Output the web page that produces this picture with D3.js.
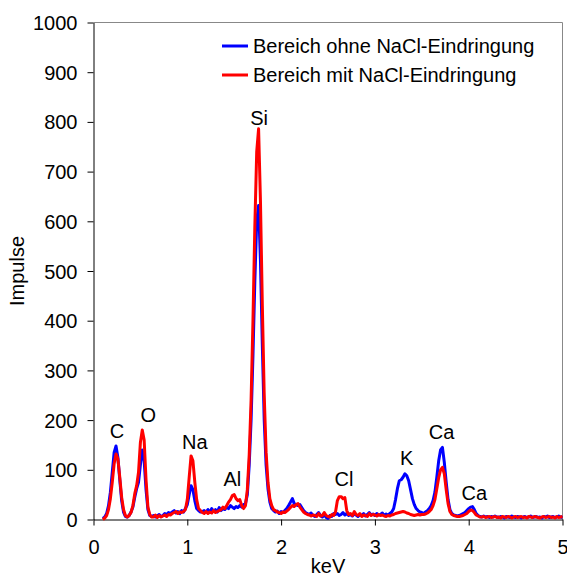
<!DOCTYPE html>
<html>
<head>
<meta charset="utf-8">
<script src="https://cdn.jsdelivr.net/npm/d3@7"></script>
<style>
  html, body { margin: 0; padding: 0; background: #fff; }
  svg { display: block; font-family: Arial, "Liberation Sans", sans-serif; }
</style>
</head>
<body>
<svg id="chart" width="567" height="576"></svg>
<script>
// ---- data ----
const energies = [
  0.10,0.12,0.14,0.16,0.18,0.20,0.22,0.24,0.26,0.28,
  0.30,0.32,0.34,0.36,0.38,0.40,0.42,0.44,0.46,0.48,
  0.50,0.52,0.54,0.56,0.58,0.60,0.62,0.64,0.66,0.68,
  0.70,0.72,0.74,0.76,0.78,0.80,0.82,0.84,0.86,0.88,
  0.90,0.92,0.94,0.96,0.98,1.00,1.02,1.04,1.06,1.08,
  1.10,1.12,1.14,1.16,1.18,1.20,1.22,1.24,1.26,1.28,
  1.30,1.32,1.34,1.36,1.38,1.40,1.42,1.44,1.46,1.48,
  1.50,1.52,1.54,1.56,1.58,1.60,1.62,1.64,1.66,1.68,
  1.70,1.72,1.74,1.76,1.78,1.80,1.82,1.84,1.86,1.88,
  1.90,1.92,1.94,1.96,1.98,2.00,2.02,2.04,2.06,2.08,
  2.10,2.12,2.14,2.16,2.18,2.20,2.22,2.24,2.26,2.28,
  2.30,2.32,2.34,2.36,2.38,2.40,2.42,2.44,2.46,2.48,
  2.50,2.52,2.54,2.56,2.58,2.60,2.62,2.64,2.66,2.68,
  2.70,2.72,2.74,2.76,2.78,2.80,2.82,2.84,2.86,2.88,
  2.90,2.92,2.94,2.96,2.98,3.00,3.02,3.04,3.06,3.08,
  3.10,3.12,3.14,3.16,3.18,3.20,3.22,3.24,3.26,3.28,
  3.30,3.32,3.34,3.36,3.38,3.40,3.42,3.44,3.46,3.48,
  3.50,3.52,3.54,3.56,3.58,3.60,3.62,3.64,3.66,3.68,
  3.70,3.72,3.74,3.76,3.78,3.80,3.82,3.84,3.86,3.88,
  3.90,3.92,3.94,3.96,3.98,4.00,4.02,4.04,4.06,4.08,
  4.10,4.12,4.14,4.16,4.18,4.20,4.22,4.24,4.26,4.28,
  4.30,4.32,4.34,4.36,4.38,4.40,4.42,4.44,4.46,4.48,
  4.50,4.52,4.54,4.56,4.58,4.60,4.62,4.64,4.66,4.68,
  4.70,4.72,4.74,4.76,4.78,4.80,4.82,4.84,4.86,4.88,
  4.90,4.92,4.94,4.96,4.98,5.00
];
const countsOhne = [
  2,5,12,28,55,95,135,148,125,80,
  38,15,6,5,8,15,25,45,62,75,
  110,140,118,60,20,8,6,8,5,7,
  10,6,8,12,10,14,12,15,18,13,
  16,12,18,15,22,30,50,68,60,38,
  22,18,15,16,18,15,20,14,22,17,
  20,15,24,18,22,20,25,22,28,25,
  22,26,24,28,25,30,32,50,110,200,
  330,480,600,632,520,350,200,110,62,35,
  22,18,15,17,12,16,14,18,22,28,
  35,42,32,30,28,30,24,18,14,12,
  10,13,8,6,10,14,8,5,10,4,
  2,8,6,12,10,12,8,10,14,9,
  12,8,10,7,12,9,6,10,8,12,
  7,10,14,9,11,8,12,9,10,13,
  8,11,9,12,15,22,40,62,78,80,
  85,92,88,78,60,42,30,22,18,15,
  14,12,15,18,22,28,38,55,85,118,
  140,145,115,75,40,20,12,9,8,7,
  8,10,12,14,18,22,25,26,20,12,
  8,6,5,7,5,6,4,6,5,7,
  5,4,6,5,3,6,5,4,7,5,
  4,6,5,3,5,6,4,5,7,4,
  5,6,4,5,3,6,5,7,4,5,
  6,4,5,7,5,4
];
const countsMit = [
  0,3,8,20,42,75,112,132,122,85,
  45,20,8,5,8,14,28,52,68,95,
  155,180,160,80,25,10,5,5,9,4,
  8,5,7,9,6,10,9,12,14,16,
  12,15,14,16,20,40,85,128,118,75,
  40,22,18,14,12,16,12,15,13,18,
  14,16,18,20,25,22,28,35,40,48,
  50,42,38,40,28,22,28,60,130,240,
  400,590,740,786,640,430,250,135,75,42,
  28,20,18,15,14,12,15,14,17,20,
  24,28,26,30,32,25,20,15,12,10,
  9,7,9,8,6,12,7,8,14,8,
  6,5,10,8,15,38,46,46,42,44,
  18,10,12,8,16,10,8,12,6,9,
  8,6,12,8,10,9,7,10,8,9,
  7,6,8,7,9,10,12,13,14,15,
  16,15,13,12,10,9,8,9,10,9,
  10,10,11,13,16,20,28,40,62,84,
  100,105,92,60,32,16,10,8,7,6,
  6,7,8,10,12,16,19,18,14,9,
  7,5,5,6,4,5,6,4,5,6,
  4,5,3,6,5,4,6,5,3,5,
  6,4,5,6,4,5,3,6,5,4,
  6,5,4,3,5,6,4,5,6,4,
  5,3,6,4,5,6
];
const seriesNames = ["Bereich ohne NaCl-Eindringung", "Bereich mit NaCl-Eindringung"];
const seriesColors = ["#0000ff", "#ff0000"];
const peakLabels = ["C", "O", "Na", "Al", "Si", "Cl", "K", "Ca", "Ca"];
const peakLabelEnergies = [0.25, 0.585, 1.08, 1.48, 1.765, 2.67, 3.34, 3.71, 4.06];
const peakLabelCounts = [164, 196, 142, 67, 794, 67, 110, 162, 39];
const xTicks = [0, 1, 2, 3, 4, 5];
const yTicks = [0, 100, 200, 300, 400, 500, 600, 700, 800, 900, 1000];

// ---- layout ----
const svg = d3.select("#chart");
const mLeft = 93.5, mRight = 562.5, mTop = 22.5, mBottom = 519.5;
const x = d3.scaleLinear().domain([0, 5]).range([mLeft, mRight]);
const y = d3.scaleLinear().domain([0, 1000]).range([mBottom, mTop]);
const fontSize = 20;

// plot border (top & right)
svg.append("path")
  .attr("d", `M${mLeft},${mTop}H${mRight}V${mBottom}`)
  .attr("fill", "none").attr("stroke", "#888").attr("stroke-width", 1);

// axes
const yAxis = d3.axisLeft(y).tickValues(yTicks).tickSize(6).tickPadding(10).tickSizeOuter(0).tickFormat(d3.format("d"));
const gy = svg.append("g").attr("transform", `translate(${mLeft},0)`).call(yAxis);
const xAxis = d3.axisBottom(x).tickValues(xTicks).tickSize(6).tickPadding(14).tickSizeOuter(0).tickFormat(d3.format("d"));
const gx = svg.append("g").attr("transform", `translate(0,${mBottom})`).call(xAxis);
[gx, gy].forEach(g => {
  g.selectAll("text").attr("font-size", fontSize).attr("fill", "#000")
    .attr("font-family", "Arial, 'Liberation Sans', sans-serif");
  g.select(".domain").attr("stroke", "#000");
  g.selectAll(".tick line").attr("stroke", "#000");
});
gy.selectAll("text").attr("dy", "0.35em");

// axis titles
svg.append("text").attr("x", (mLeft + mRight) / 2).attr("y", 573)
  .attr("text-anchor", "middle").attr("font-size", fontSize).text("keV");
svg.append("text")
  .attr("transform", `translate(24,${(mTop + mBottom) / 2}) rotate(-90)`)
  .attr("text-anchor", "middle").attr("font-size", fontSize).text("Impulse");

// lines
const line = d3.line().x((d, i) => x(energies[i])).y(d => y(d));
const seriesData = [countsOhne, countsMit];
const widths = [3, 3];
seriesData.forEach((s, k) => {
  svg.append("path").datum(s)
    .attr("d", line)
    .attr("fill", "none")
    .attr("stroke", seriesColors[k])
    .attr("stroke-width", widths[k])
    .attr("stroke-linejoin", "round");
});

// peak labels
svg.append("g").selectAll("text").data(peakLabels).join("text")
  .attr("x", (d, i) => x(peakLabelEnergies[i]))
  .attr("y", (d, i) => y(peakLabelCounts[i]))
  .attr("text-anchor", "middle")
  .attr("font-size", fontSize)
  .text(d => d);

// legend
const legendY = [46, 75];
const lg = svg.append("g");
seriesNames.forEach((name, k) => {
  lg.append("line").attr("x1", 222).attr("x2", 248)
    .attr("y1", legendY[k]).attr("y2", legendY[k])
    .attr("stroke", seriesColors[k]).attr("stroke-width", 3);
  lg.append("text").attr("x", 253).attr("y", legendY[k] + 7)
    .attr("font-size", fontSize).text(name);
});
</script>
</body>
</html>
